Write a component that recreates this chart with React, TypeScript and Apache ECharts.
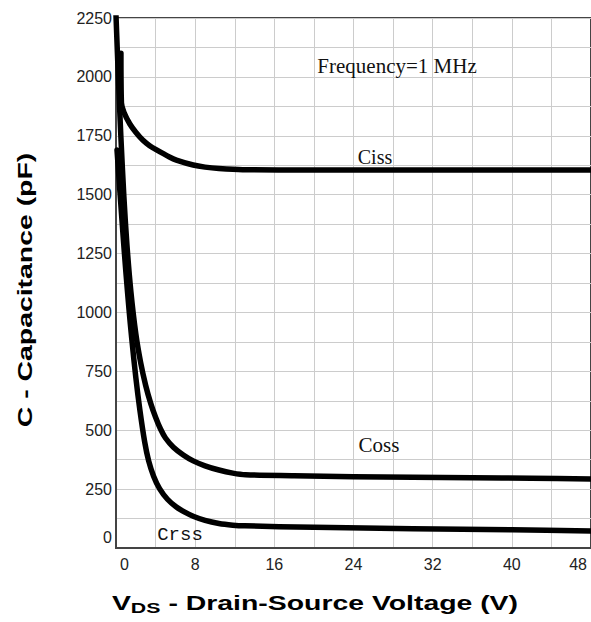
import React, { useEffect, useRef } from "react";
import * as echarts from "echarts";

const xTicks = { min: 0, max: 48, interval: 8 };
const yTicks = { min: 0, max: 2250, interval: 250 };

const cissData: number[][] = [
  [0.5, 2100], [0.55, 1890], [0.8, 1850], [1.4, 1800], [2.0, 1765], [2.7, 1732],
  [3.4, 1708], [4.1, 1690], [5.4, 1660], [6.1, 1647], [7.8, 1626], [9, 1617],
  [10.4, 1611], [12.8, 1606], [20, 1605], [30, 1605], [40, 1605], [48, 1605],
];

const cossData: number[][] = [
  [0, 2260], [0.25, 1985], [0.5, 1740], [0.8, 1490], [1.1, 1290], [1.5, 1090],
  [2.0, 910], [2.5, 785], [3.0, 690], [3.5, 615], [4.0, 555], [4.5, 505],
  [5.0, 467], [5.8, 428], [6.8, 395], [7.8, 370], [9, 349], [10.4, 331],
  [11.8, 318], [13.1, 311], [18, 307], [24, 303], [30, 300], [36, 298],
  [42, 296], [48, 293],
];

const crssData: number[][] = [
  [0.1, 1690], [0.4, 1510], [0.7, 1335], [1.0, 1170], [1.3, 1020], [1.6, 885],
  [2.0, 725], [2.4, 590], [2.9, 450], [3.3, 370], [3.8, 305], [4.4, 252],
  [5.2, 207], [6.1, 174], [7, 151], [7.8, 135], [9, 117], [10.4, 104],
  [11.8, 97], [13, 94], [20, 88], [30, 82], [40, 77], [48, 72],
];

const seriesNames = ["Ciss", "Coss", "Crss"];
const annotation = "Frequency=1 MHz";
const xTitleParts = ["V", "DS", " - Drain-Source Voltage (V)"];
const yTitle = "C - Capacitance (pF)";

export default function App() {
  const ref = useRef<HTMLDivElement>(null);
  useEffect(() => {
    document.body.style.margin = "0";
    if (!ref.current) return;
    const chart = echarts.init(ref.current, undefined, { renderer: "svg" });
    const tickFont = "'Liberation Sans', Arial, sans-serif";
    const mkSeries = (name: string, data: number[][]) => ({
      name,
      type: "line",
      data,
      showSymbol: false,
      symbol: "none",
      smooth: 0.3,
      lineStyle: { color: "#000", width: 5.5, cap: "round", join: "round" },
      z: 5,
    });
    chart.setOption({
      animation: false,
      backgroundColor: "#fff",
      grid: {
        left: 116,
        top: 18,
        right: -5,
        bottom: 74,
        show: true,
        borderColor: "#444",
        borderWidth: 2,
      },
      xAxis: {
        type: "value",
        min: xTicks.min,
        max: xTicks.max,
        interval: xTicks.interval,
        axisLine: { show: true, lineStyle: { color: "#444", width: 2 } },
        axisTick: { show: false },
        minorTick: { show: false, splitNumber: 2 },
        splitLine: { show: true, lineStyle: { color: "#cccccc", width: 1 } },
        minorSplitLine: { show: true, lineStyle: { color: "#cccccc", width: 1 } },
        axisLabel: {
          color: "#222",
          fontSize: 16,
          fontFamily: tickFont,
          margin: 8,
          alignMinLabel: "left",
          alignMaxLabel: "right",
          formatter: (v: number) =>
            v === xTicks.min ? "{a|" + v + "}" : v === xTicks.max ? "{b|" + v + "}" : String(v),
          rich: {
            a: { fontSize: 16, fontFamily: tickFont, color: "#222", padding: [0, 0, 0, 4] },
            b: { fontSize: 16, fontFamily: tickFont, color: "#222", padding: [0, 4, 0, 0] },
          },
        },
      },
      yAxis: {
        type: "value",
        min: yTicks.min,
        max: yTicks.max,
        interval: yTicks.interval,
        axisLine: { show: true, lineStyle: { color: "#444", width: 2 } },
        axisTick: { show: false },
        minorTick: { show: false, splitNumber: 2 },
        splitLine: { show: true, lineStyle: { color: "#cccccc", width: 1 } },
        minorSplitLine: { show: true, lineStyle: { color: "#cccccc", width: 1 } },
        axisLabel: {
          color: "#222",
          fontSize: 16,
          fontFamily: tickFont,
          margin: 4,
          verticalAlignMinLabel: "bottom",
          formatter: (v: number) => (v === yTicks.min ? "{a|" + v + "}" : String(v)),
          rich: {
            a: { fontSize: 16, fontFamily: tickFont, color: "#222", padding: [0, 0, 3, 0] },
          },
        },
      },
      series: [
        mkSeries(seriesNames[0], cissData),
        mkSeries(seriesNames[1], cossData),
        mkSeries(seriesNames[2], crssData),
      ],
      graphic: [
        {
          type: "text",
          x: 397,
          y: 66,
          style: {
            text: annotation,
            fontFamily: "'Liberation Serif', 'Times New Roman', serif",
            fontSize: 21,
            fill: "#111",
            align: "center",
            verticalAlign: "middle",
          },
          z: 10,
        },
        {
          type: "text",
          x: 375,
          y: 157,
          style: {
            text: seriesNames[0],
            fontFamily: "'Liberation Serif', 'Times New Roman', serif",
            fontSize: 20,
            fill: "#111",
            align: "center",
            verticalAlign: "middle",
          },
          z: 10,
        },
        {
          type: "text",
          x: 379,
          y: 445,
          style: {
            text: seriesNames[1],
            fontFamily: "'Liberation Serif', 'Times New Roman', serif",
            fontSize: 21,
            fill: "#111",
            align: "center",
            verticalAlign: "middle",
          },
          z: 10,
        },
        {
          type: "text",
          x: 180,
          y: 535,
          style: {
            text: seriesNames[2],
            fontFamily: "'Liberation Mono', 'Courier New', monospace",
            fontSize: 19,
            fill: "#111",
            align: "center",
            verticalAlign: "middle",
          },
          z: 10,
        },
        {
          type: "text",
          x: 315,
          y: 603,
          scaleX: 1.42,
          style: {
            text:
              "{v|" + xTitleParts[0] + "}{s|" + xTitleParts[1] + "}{v|" + xTitleParts[2] + "}",
            align: "center",
            verticalAlign: "middle",
            rich: {
              v: {
                fontFamily: "'Liberation Sans', Arial, sans-serif",
                fontWeight: "bold",
                fontSize: 20,
                lineHeight: 24,
                fill: "#000",
              },
              s: {
                fontFamily: "'Liberation Sans', Arial, sans-serif",
                fontWeight: "bold",
                fontSize: 15,
                lineHeight: 15,
                verticalAlign: "bottom",
                fill: "#000",
              },
            },
          },
          z: 10,
        },
        {
          type: "text",
          x: 25,
          y: 290,
          rotation: Math.PI / 2,
          scaleX: 1.42,
          style: {
            text: yTitle,
            fontFamily: "'Liberation Sans', Arial, sans-serif",
            fontWeight: "bold",
            fontSize: 20,
            fill: "#000",
            align: "center",
            verticalAlign: "middle",
          },
          z: 10,
        },
      ],
    });
    return () => chart.dispose();
  }, []);
  return <div ref={ref} style={{ width: 591, height: 622 }} />;
}
